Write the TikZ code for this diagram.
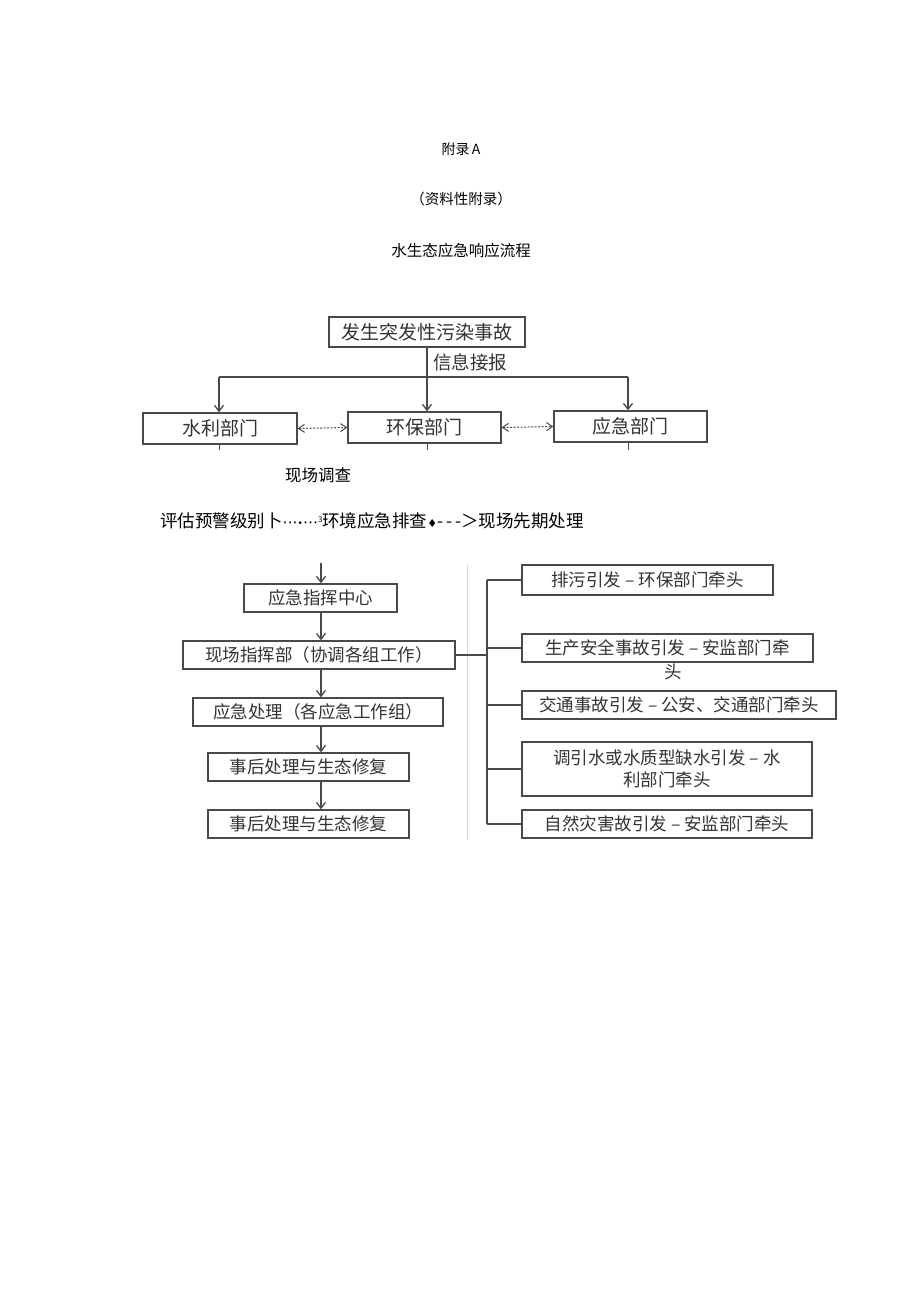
\documentclass[tikz,border=0pt]{standalone}
\usepackage{fontspec}
\setmainfont{Noto Sans CJK SC}
\newfontfamily\symfont{DejaVu Sans}
\usetikzlibrary{arrows.meta,calc}
\definecolor{ink}{HTML}{333333}
\definecolor{edge}{HTML}{4A4A4A}
\tikzset{
  box/.style={draw=edge,line width=1.3pt,inner sep=0pt,text=ink,font=\fontsize{17.5}{22}\selectfont},
  bigbox/.style={box,font=\fontsize{19}{21}\selectfont},
  conn/.style={draw=edge,line width=1.3pt},
  arr/.style={conn,-{Straight Barb[length=6pt,width=9pt]}},
  darr/.style={draw=edge,line width=1pt,dash pattern=on 2pt off 1.5pt,{Straight Barb[length=6pt,width=8pt]}-{Straight Barb[length=6pt,width=8pt]}},
  plain/.style={inner sep=0pt,text=black},
}
\begin{document}
\begin{tikzpicture}[x=1pt,y=-1pt]
\useasboundingbox (0,0) rectangle (920,1301);
\fill[white] (0,0) rectangle (920,1301);
% headings
\node[plain,font=\fontsize{14}{16}\selectfont] (h1) at (461,149) {附录\,A};
\node[plain,font=\fontsize{14.5}{16}\selectfont] (h2) at (461,199) {（资料性附录）};
\node[plain,font=\fontsize{15.5}{17}\selectfont] (h3) at (461,251) {水生态应急响应流程};
% top part
\node[bigbox,minimum width=196pt,minimum height=30pt] (top) at (427,332) {发生突发性污染事故};
\node[plain,text=ink,font=\fontsize{18.5}{20}\selectfont] (lbl) at (470,362) {信息接报};
\node[bigbox,minimum width=154pt,minimum height=31pt] (sl) at (220,428.5) {水利部门};
\node[bigbox,minimum width=153pt,minimum height=31pt] (hb) at (424.5,427.5) {环保部门};
\node[bigbox,minimum width=153pt,minimum height=31pt] (yj) at (630.5,426.5) {应急部门};
\coordinate (busL) at (219,377);
\coordinate (busR) at (628,377);
\draw[arr] (top.south -| 427,0) -- (hb.north -| 427,0);
\draw[conn] (busL) -- (busR);
\draw[arr] (busL) -- (sl.north -| busL);
\draw[arr] (busR) -- (yj.north -| busR);
\draw[darr] (sl.east) -- (hb.west);
\draw[darr] (hb.east) -- (yj.west);
\coordinate (s1) at (219,450);
\coordinate (s2) at (427,450);
\coordinate (s3) at (628,450);
\draw[conn,line width=1pt] (sl.south -| s1) -- (s1);
\draw[conn,line width=1pt] (hb.south -| s2) -- (s2);
\draw[conn,line width=1pt] (yj.south -| s3) -- (s3);
% middle text
\node[plain,font=\fontsize{16.5}{18}\selectfont] (xc) at (318,475) {现场调查};
\node[plain,font=\fontsize{17.5}{19}\selectfont,anchor=west] (pg) at (160,521) {评估预警级别卜{\symfont\fontsize{15}{16}\selectfont ⋯\raisebox{1pt}{\fontsize{9}{10}\selectfont •}⋯}\raisebox{5pt}{\fontsize{8}{9}\selectfont 3}环境应急排查{\symfont\fontsize{11}{12}\selectfont ♦}-\,-\,-＞现场先期处理};
% bottom left chain
\coordinate (in) at (321,563);
\node[box,minimum width=153pt,minimum height=28pt] (c1) at (320.5,598) {应急指挥中心};
\node[box,minimum width=272pt,minimum height=28pt] (c2) at (319,655) {现场指挥部（协调各组工作）};
\node[box,minimum width=250pt,minimum height=28pt] (c3) at (318,712) {应急处理（各应急工作组）};
\node[box,minimum width=201pt,minimum height=28pt] (c4) at (308.5,767) {事后处理与生态修复};
\node[box,minimum width=201pt,minimum height=28pt] (c5) at (308.5,824) {事后处理与生态修复};
\draw[arr] (in) -- (c1.north -| in);
\draw[arr] (c1.south -| in) -- (c2.north -| in);
\draw[arr] (c2.south -| in) -- (c3.north -| in);
\draw[arr] (c3.south -| in) -- (c4.north -| in);
\draw[arr] (c4.south -| in) -- (c5.north -| in);
% separator
\coordinate (sepT) at (467,565);
\coordinate (sepB) at (467,840);
\draw[gray!30,line width=1pt] (sepT) -- (sepB);
% right boxes
\node[box,minimum width=251pt,minimum height=30pt] (r1) at (647.5,580) {排污引发 – 环保部门牵头};
\node[box,minimum width=291pt,minimum height=28pt] (r2) at (667.5,648) {生产安全事故引发 – 安监部门牵};
\node[plain,text=ink,font=\fontsize{17.5}{19}\selectfont] (r2b) at (673,672) {头};
\node[box,minimum width=314pt,minimum height=28pt] (r3) at (679,705) {交通事故引发 – 公安、交通部门牵头};
\node[box,minimum width=290pt,minimum height=54pt,align=center] (r4) at (667,769) {调引水或水质型缺水引发 – 水\\利部门牵头};
\node[box,minimum width=290pt,minimum height=28pt] (r5) at (667,824) {自然灾害故引发 – 安监部门牵头};
\coordinate (busT) at (487,580);
\coordinate (busB) at (487,824);
\draw[conn] (c2.east) -- (c2.east -| busT);
\draw[conn] (busT) -- (busB);
\draw[conn] (busT) -- (r1.west);
\draw[conn] (busT |- r2.west) -- (r2.west);
\draw[conn] (busT |- r3.west) -- (r3.west);
\draw[conn] (busT |- r4.west) -- (r4.west);
\draw[conn] (busB) -- (r5.west);
\end{tikzpicture}
\end{document}
